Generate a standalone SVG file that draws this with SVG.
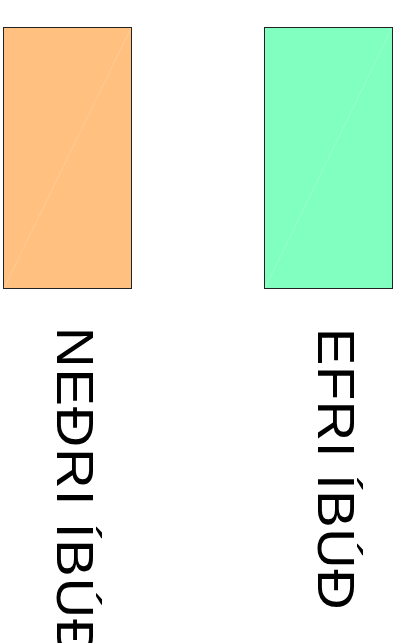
<svg xmlns="http://www.w3.org/2000/svg" width="405" height="643" viewBox="0 0 405 643">
<style>
.box{stroke:#222;stroke-width:1}
.diag{stroke:#fff;stroke-opacity:0.18;stroke-width:1}
.lbl{font-family:"Liberation Sans",Arial,sans-serif;font-size:56px;fill:#000}
</style>
<rect width="405" height="643" fill="#fff"/>
<g id="node-nedri">
<rect class="box" x="3.5" y="27.5" width="128" height="261" fill="#FFC080"/>
<line class="diag" x1="4" y1="288" x2="131" y2="28"/>
</g>
<g id="node-efri">
<rect class="box" x="264.5" y="27.5" width="128" height="261" fill="#80FFC0"/>
<line class="diag" x1="265" y1="288" x2="392" y2="28"/>
</g>
<g id="labels">
<text class="lbl" letter-spacing="1" transform="translate(57,327) rotate(90) scale(1,0.92)">NEÐRI ÍBÚÐ</text>
<text class="lbl" letter-spacing="0.6" transform="translate(318,328) rotate(90) scale(1,0.92)">EFRI ÍBÚÐ</text>
</g>
<g id="connectors"></g>
</svg>
